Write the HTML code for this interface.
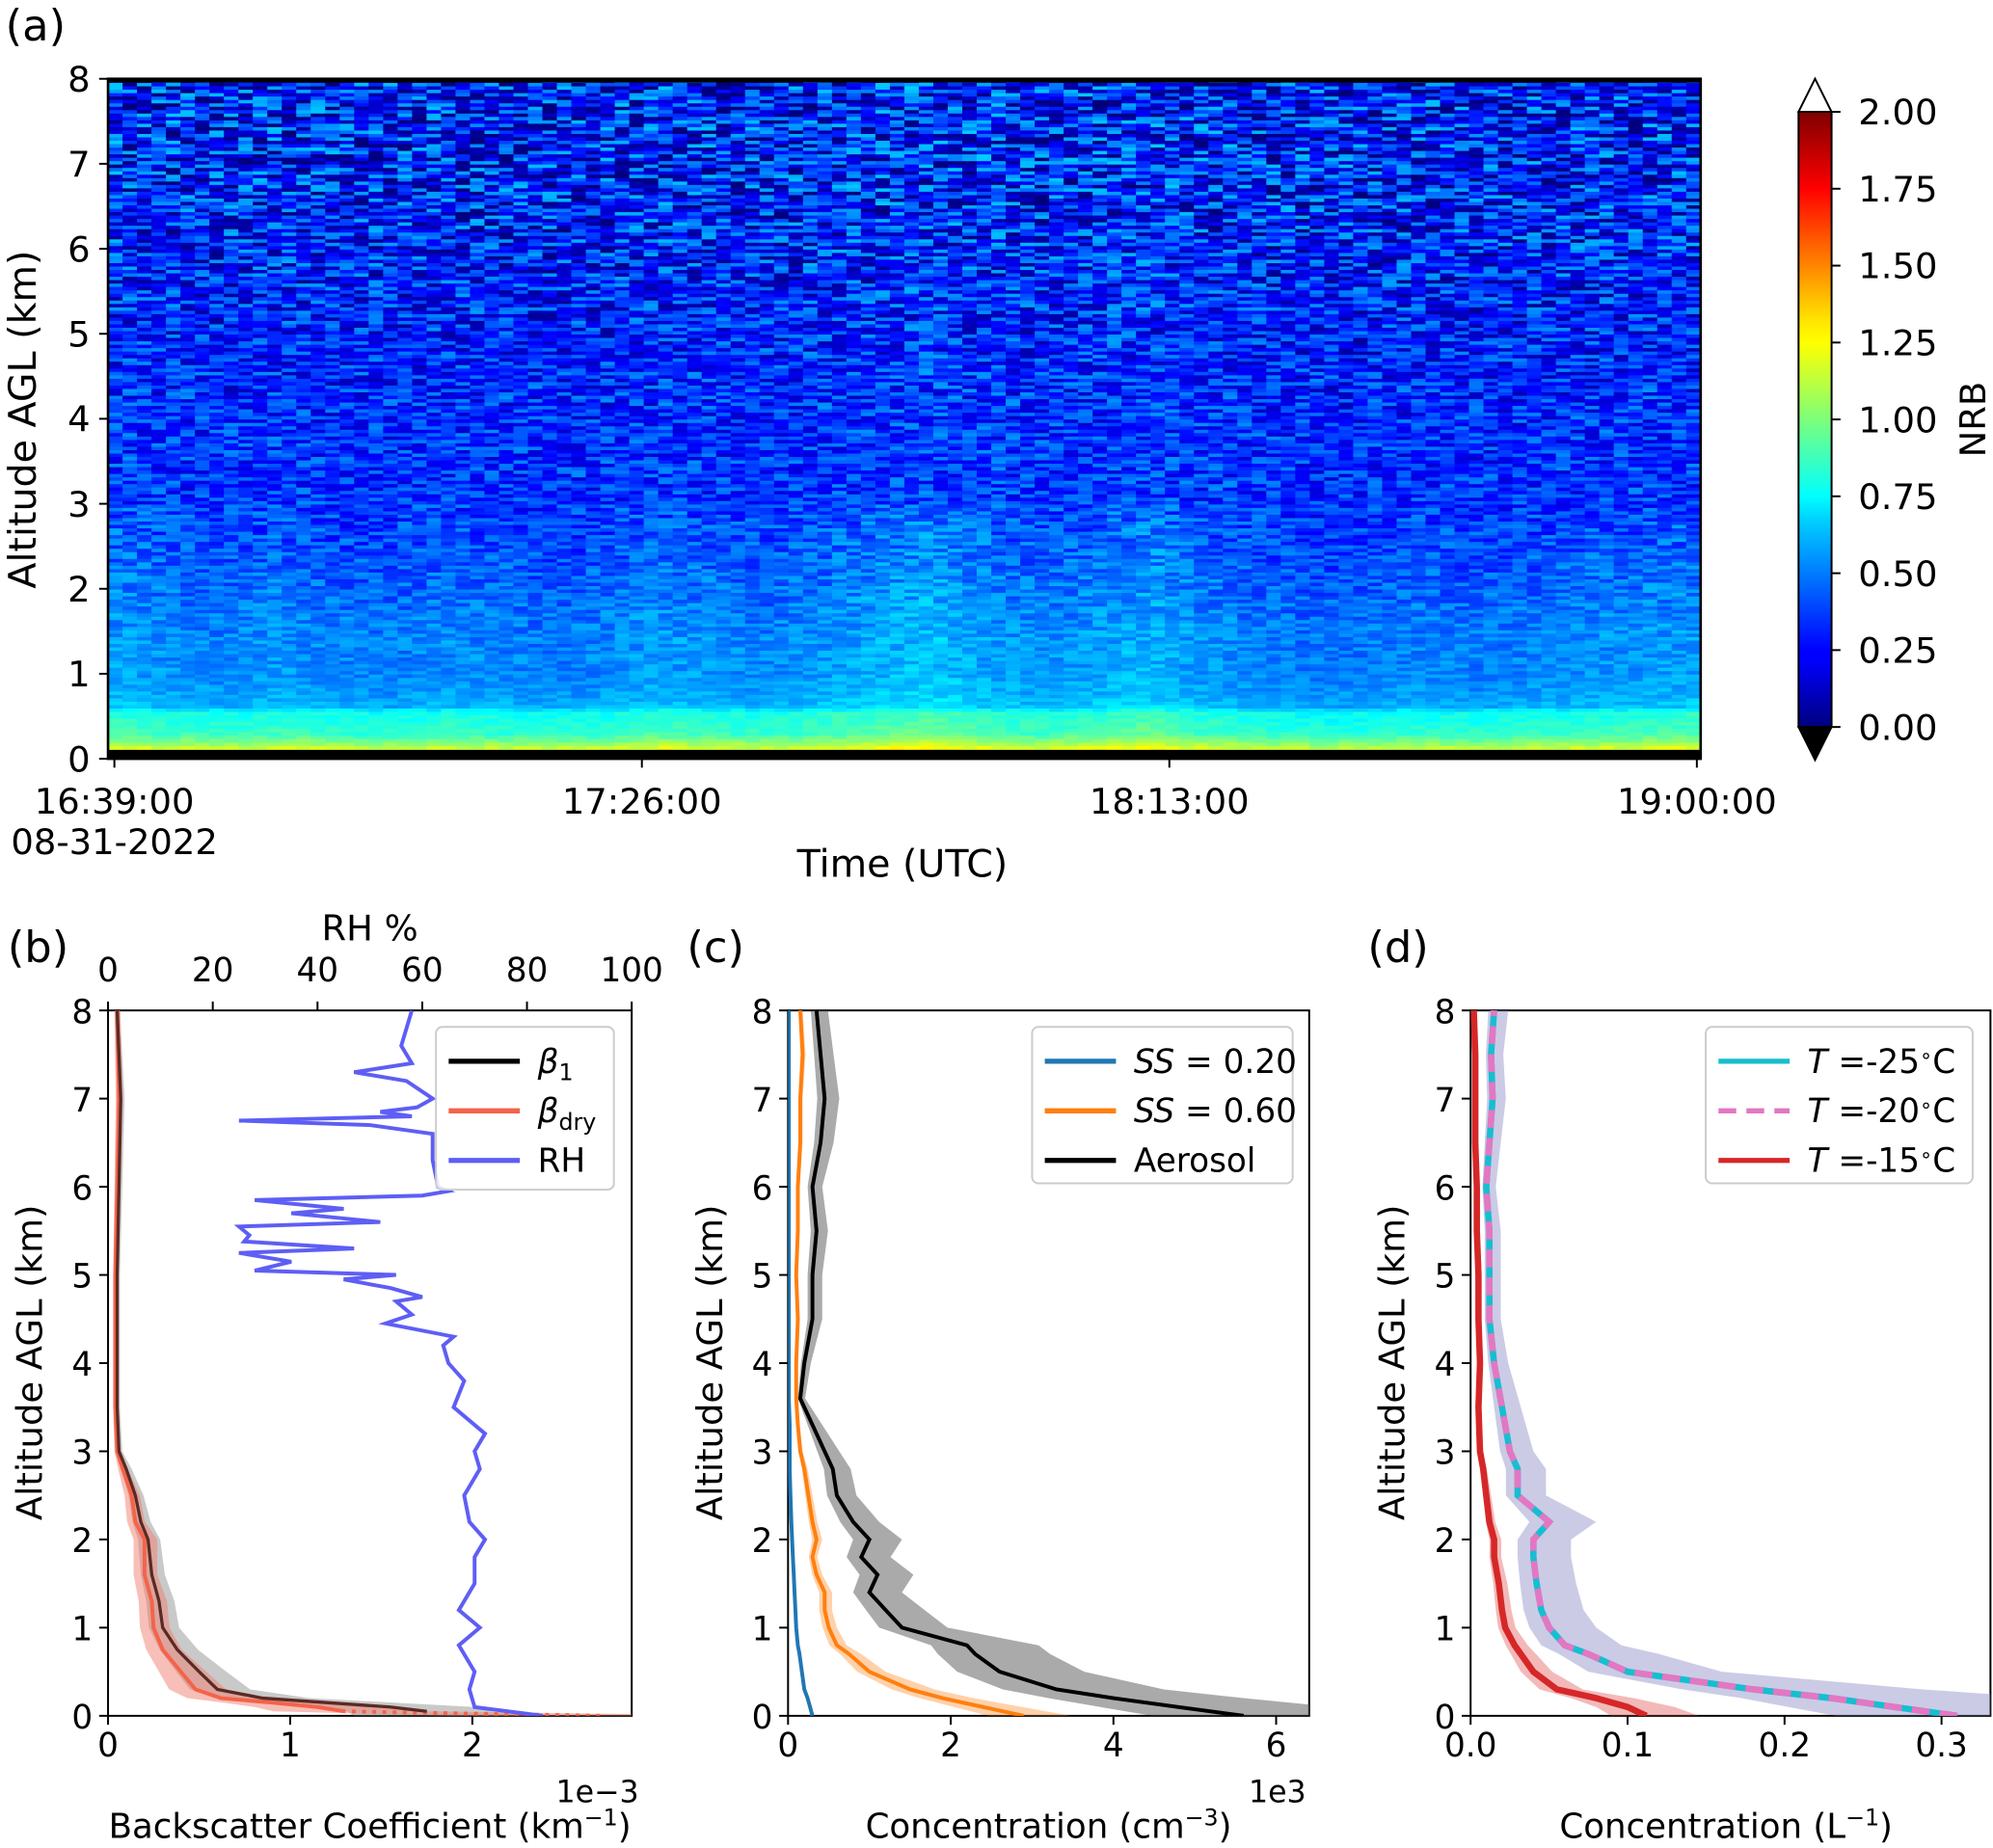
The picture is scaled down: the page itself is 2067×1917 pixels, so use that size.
<!DOCTYPE html>
<html><head><meta charset="utf-8"><style>
html,body{margin:0;padding:0;background:#fff;}
svg{display:block;font-family:"DejaVu Sans","Liberation Sans",sans-serif;}
</style></head><body>
<svg id="fig" width="2067" height="1917" viewBox="0 0 1568 1454" preserveAspectRatio="none" xmlns="http://www.w3.org/2000/svg">
<defs>
<linearGradient id="jet" x1="0" y1="1" x2="0" y2="0">
<stop offset="0" stop-color="#00007f"/><stop offset="0.11" stop-color="#0000ff"/><stop offset="0.125" stop-color="#0000ff"/>
<stop offset="0.34" stop-color="#00d4ff"/><stop offset="0.375" stop-color="#00ffff"/><stop offset="0.5" stop-color="#7dff7a"/>
<stop offset="0.625" stop-color="#ffff00"/><stop offset="0.66" stop-color="#ffe600"/><stop offset="0.875" stop-color="#ff0000"/><stop offset="1" stop-color="#7f0000"/>
</linearGradient>
<clipPath id="clipb"><rect x="85" y="795" width="412" height="555"/></clipPath>
<clipPath id="clipc"><rect x="620" y="795" width="410" height="555"/></clipPath>
<clipPath id="clipd"><rect x="1157" y="795" width="409" height="555"/></clipPath>
</defs>
<g id="heat"></g>
<g id="layer"></g>
</svg>
<script>
// ---------- Panel (a) data ----------
const profAlt = [0,0.1,0.2,0.3,0.45,0.55,0.62,0.8,1.0,1.5,2.0,2.5,3,4,5,6,7,8];
const profNRB = [1.25,1.2,1.0,0.85,0.8,0.78,0.6,0.55,0.52,0.5,0.45,0.4,0.35,0.33,0.3,0.3,0.28,0.28];
const profNoise = [0.06,0.06,0.05,0.05,0.05,0.05,0.06,0.07,0.08,0.1,0.12,0.14,0.17,0.2,0.24,0.3,0.36,0.36];
const timeMod = [0.05,0.02,0.0,0.03,0.0,-0.02,0.02,0.0,-0.02,0.0,0.05,0.02,0.0,0.04,0.08,0.12,0.06,0.02,0.05,0.1,0.03,0.0,-0.03,-0.02,0.0,-0.02,0.0,0.02,0.03,0.05];
// ---------- Panel (b) data ----------
const rhAlt = [0,0.1,0.3,0.5,0.8,1.0,1.2,1.5,1.8,2.0,2.2,2.5,2.8,3.0,3.2,3.5,3.8,4.0,4.2,4.3,4.45,4.55,4.7,4.75,4.85,4.95,5.0,5.05,5.15,5.25,5.3,5.38,5.45,5.55,5.6,5.7,5.75,5.85,5.9,5.95,6.0,6.3,6.6,6.7,6.75,6.8,6.85,6.9,7.0,7.2,7.3,7.4,7.6,8.0];
const rhVal = [83,70,69,70,67,71,67,70,70,72,69,68,71,70,72,66,68,65,64,66,53,58,55,60,54,45,55,28,35,25,47,26,27,25,52,35,45,28,60,65,63,62,62,50,25,58,52,59,62,57,47,58,56,58];
const betaAlt = [0,0.05,0.1,0.15,0.2,0.3,0.5,0.75,1.0,1.3,1.6,2.0,2.2,2.5,2.8,3.0,3.5,4,5,6,7,8];
const beta1 = [1.8,1.75,1.55,1.2,0.85,0.6,0.5,0.38,0.3,0.28,0.24,0.22,0.18,0.15,0.1,0.06,0.05,0.05,0.05,0.06,0.07,0.05];
const betaDry = [2.7,1.3,1.15,0.9,0.62,0.48,0.4,0.3,0.25,0.24,0.2,0.2,0.15,0.13,0.08,0.05,0.04,0.04,0.04,0.05,0.06,0.05];
// ---------- Panel (c) data ----------
const cAlt = [0,0.1,0.2,0.3,0.5,0.7,0.8,1.0,1.2,1.4,1.6,1.8,2.0,2.2,2.5,2.8,3.0,3.3,3.6,4,4.5,5,5.5,6,6.5,7,7.5,8];
const ss20 = [0.3,0.27,0.24,0.2,0.17,0.14,0.12,0.1,0.09,0.08,0.07,0.06,0.05,0.04,0.03,0.02,0.02,0.02,0.01,0.01,0.01,0.01,0.01,0.01,0.01,0.01,0.01,0.01];
const ss60 = [2.9,2.4,1.9,1.5,1.0,0.75,0.6,0.5,0.45,0.45,0.35,0.3,0.35,0.3,0.25,0.2,0.15,0.12,0.1,0.1,0.12,0.1,0.12,0.12,0.15,0.15,0.18,0.15];
const aero = [5.6,4.8,4.0,3.3,2.6,2.3,2.2,1.4,1.2,1.0,1.1,0.9,1.0,0.8,0.6,0.55,0.45,0.3,0.15,0.2,0.3,0.3,0.35,0.3,0.4,0.45,0.4,0.35];
// ---------- Panel (d) data ----------
const dAlt = [0,0.1,0.2,0.3,0.5,0.7,0.8,1.0,1.2,1.5,1.8,2.0,2.2,2.5,2.8,3.0,3.5,4,4.5,5,5.5,6,6.5,7,7.5,8];
const t15 = [0.112,0.1,0.08,0.055,0.04,0.032,0.028,0.022,0.02,0.018,0.015,0.015,0.012,0.01,0.008,0.006,0.005,0.006,0.005,0.005,0.004,0.004,0.003,0.003,0.003,0.002];
const t20 = [0.31,0.27,0.23,0.18,0.1,0.075,0.06,0.05,0.045,0.042,0.04,0.04,0.05,0.03,0.03,0.025,0.02,0.015,0.012,0.012,0.012,0.01,0.012,0.014,0.013,0.015];
const t25 = t20.slice();

const NS="http://www.w3.org/2000/svg";
const L=document.getElementById('layer');
function mk(tag,attrs,parent){const e=document.createElementNS(NS,tag);for(const k in attrs)e.setAttribute(k,attrs[k]);(parent||L).appendChild(e);return e;}
function txt(x,y,s,size,anchor,parent,extra){const e=mk('text',Object.assign({x:x,y:y,'font-size':size,'text-anchor':anchor||'middle',fill:'#000'},extra||{}),parent);e.innerHTML=s;return e;}
function interp(xs,ys,x){if(x<=xs[0])return ys[0];for(let i=1;i<xs.length;i++){if(x<=xs[i]){const t=(x-xs[i-1])/(xs[i]-xs[i-1]);return ys[i-1]+t*(ys[i]-ys[i-1]);}}return ys[ys.length-1];}
function jet(v){v=Math.max(0,Math.min(1,v));const r=Math.max(0,Math.min(1,1.5-Math.abs(4*v-3))),g=Math.max(0,Math.min(1,1.5-Math.abs(4*v-2))),b=Math.max(0,Math.min(1,1.5-Math.abs(4*v-1)));return 'rgb('+(r*255|0)+','+(g*255|0)+','+(b*255|0)+')';}
function hash(i,j){let h=(i*374761393+j*668265263)>>>0;h=((h^(h>>>13))*1274126177)>>>0;return ((h^(h>>>16))>>>0)/4294967295;}

// ---------- Panel (a) ----------
const ax={x0:85,x1:1338,y0:597,y1:62};
const ya=a=>ax.y0-(a/8)*(ax.y0-ax.y1);
const H=document.getElementById('heat');
const nc=110,nr=200;const cw=(ax.x1-ax.x0)/nc,rh=(ax.y0-ax.y1)/nr;
for(let i=0;i<nc;i++){const tm=interp(timeMod.map((_,k)=>k/(timeMod.length-1)),timeMod,i/(nc-1));
 for(let j=0;j<nr;j++){const alt=(j+0.5)/nr*8;
  let v=interp(profAlt,profNRB,alt)+tm*(alt<3?1:0.3)+(hash(i,j)-0.5)*2*interp(profAlt,profNoise,alt);
  mk('rect',{x:(ax.x0+i*cw).toFixed(2),y:(ax.y0-(j+1)*rh).toFixed(2),width:(cw+0.6).toFixed(2),height:(rh+0.6).toFixed(2),fill:jet(v/2)},H);}}
mk('rect',{x:ax.x0,y:ax.y1,width:ax.x1-ax.x0,height:ax.y0-ax.y1,fill:'none',stroke:'#000','stroke-width':2,});
mk('rect',{x:ax.x0,y:590,width:ax.x1-ax.x0,height:7,fill:'#000'});
mk('rect',{x:ax.x0,y:62,width:ax.x1-ax.x0,height:3,fill:'#000'});
for(let k=0;k<=8;k++){const y=ya(k);mk('line',{x1:ax.x0-7,x2:ax.x0,y1:y,y2:y,stroke:'#000','stroke-width':1.5});txt(ax.x0-14,y+10,k,28,'end');}
const tl=['16:39:00','17:26:00','18:13:00','19:00:00'],tx=[90,505,920,1335];
tl.forEach((s,k)=>{mk('line',{x1:tx[k],x2:tx[k],y1:ax.y0,y2:ax.y0+7,stroke:'#000','stroke-width':1.5});txt(tx[k],640,s,28,'middle',null,{});});
txt(90,672,'08-31-2022',28);
txt(710,690,'Time (UTC)',30,'middle',null,{});
txt(0,0,'Altitude AGL (km)',30,'middle',null,{transform:'translate(28,330) rotate(-90)',});
txt(28,32,'(a)',34,'middle');
// colorbar
mk('rect',{x:1415,y:88,width:26,height:484,fill:'url(#jet)',stroke:'#000','stroke-width':1.5,});
mk('polygon',{points:'1415,88 1441,88 1428,62',fill:'#fff',stroke:'#000','stroke-width':1.5});
mk('polygon',{points:'1415,572 1441,572 1428,598',fill:'#000',stroke:'#000','stroke-width':1.5});
for(let k=0;k<=8;k++){const v=k*0.25;const y=572-v/2*484;mk('line',{x1:1441,x2:1448,y1:y,y2:y,stroke:'#000','stroke-width':1.5});txt(1462,y+10,v.toFixed(2),28,'start');}
txt(0,0,'NRB',28,'middle',null,{transform:'translate(1562,330) rotate(-90)'});

// ---------- lower panel helpers ----------
const PY0=1350,PY1=795;
const yb=a=>PY0-(a/8)*(PY0-PY1);
function frame(x0,x1,name){mk('rect',{x:x0,y:PY1,width:x1-x0,height:PY0-PY1,fill:'none',stroke:'#000','stroke-width':1.5,});
 for(let k=0;k<=8;k++){const y=yb(k);mk('line',{x1:x0-7,x2:x0,y1:y,y2:y,stroke:'#000','stroke-width':1.5});txt(x0-12,y+10,k,26,'end');}
 txt(0,0,'Altitude AGL (km)',28,'middle',null,{transform:'translate('+(x0-52)+',1072) rotate(-90)'});}
function xtick(x,s){mk('line',{x1:x,x2:x,y1:PY0,y2:PY0+7,stroke:'#000','stroke-width':1.5});txt(x,PY0+32,s,26);}
function poly(alts,vals,fx,attrs,clip,name){const pts=alts.map((a,i)=>fx(vals[i]).toFixed(1)+','+yb(a).toFixed(1)).join(' ');
 return mk('polyline',Object.assign({points:pts,fill:'none','clip-path':'url(#'+clip+')',},attrs));}
function band(alts,vals,lo,hi,fx,fill,op,clip,name){const a=alts.map((al,i)=>fx(vals[i]*lo).toFixed(1)+','+yb(al).toFixed(1));
 const b=alts.map((al,i)=>fx(vals[i]*hi).toFixed(1)+','+yb(al).toFixed(1)).reverse();
 mk('polygon',{points:a.concat(b).join(' '),fill:fill,'fill-opacity':op,'clip-path':'url(#'+clip+')',});}
function legend(x,y,w,h,items){const g=mk('g',{});
 mk('rect',{x:x,y:y,width:w,height:h,rx:5,fill:'#fff','fill-opacity':0.85,stroke:'#ccc','stroke-width':1.5},g);
 items.forEach((it,k)=>{const yy=y+27+k*39;mk('line',Object.assign({x1:x+10,x2:x+66,y1:yy,y2:yy,'stroke-width':4,stroke:it.c},it.extra||{}),g);
  const t=txt(x+80,yy+9,it.t,26,'start',g);});}

// ---------- Panel (b) ----------
const fxb=v=>85+v*143.3; const fxrh=v=>85+v*4.12;
frame(85,497,'panel-b-frame');
[0,1,2].forEach(v=>xtick(fxb(v),v));
[0,20,40,60,80,100].forEach(v=>{mk('line',{x1:fxrh(v),x2:fxrh(v),y1:PY1,y2:PY1-7,stroke:'#000','stroke-width':1.5});txt(fxrh(v),772,v,26);});
txt(291,740,'RH %',28);txt(30,757,'(b)',34);
txt(470,1418,'1e−3',24);
txt(291,1446,'Backscatter Coefficient (km<tspan dy="-10" font-size="18">−1</tspan><tspan dy="10">)</tspan>',27);
band(betaAlt,beta1,0.75,1.3,fxb,'#888',0.45,'clipb','beta1-band');
band(betaAlt,betaDry,0.7,1.35,fxb,'#f08070',0.5,'clipb','betadry-band');
poly(betaAlt.slice(1),betaDry.slice(1),fxb,{stroke:'#f4634a','stroke-width':3},'clipb','betadry-line');
poly(betaAlt.slice(0,2),betaDry.slice(0,2),fxb,{stroke:'#f4634a','stroke-width':3,'stroke-dasharray':'3,5'},'clipb','betadry-extrapolation');
poly(betaAlt.slice(1),beta1.slice(1),fxb,{stroke:'#5a2a24','stroke-width':2.5},'clipb','beta1-line');
poly(rhAlt,rhVal,fxrh,{stroke:'#5e5ef5','stroke-width':3},'clipb','rh-line');
legend(343,808,140,128,[{c:'#000',t:'<tspan font-style="italic">β</tspan><tspan font-size="18" dy="6">1</tspan>'},{c:'#f4634a',t:'<tspan font-style="italic">β</tspan><tspan font-size="18" dy="6">dry</tspan>'},{c:'#5e5ef5',t:'RH'}]);

// ---------- Panel (c) ----------
const fxc=v=>620+v*64;
frame(620,1030,'panel-c-frame');
[0,2,4,6].forEach(v=>xtick(fxc(v),v));
txt(1005,1418,'1e3',24);txt(563,757,'(c)',34);
txt(825,1446,'Concentration (cm<tspan dy="-10" font-size="18">−3</tspan><tspan dy="10">)</tspan>',27);
band(cAlt,aero,0.8,1.4,fxc,'#555',0.5,'clipc','aerosol-band');
band(cAlt,ss60,0.85,1.2,fxc,'#ff8c2a',0.4,'clipc','ss60-band');
poly(cAlt,ss20,fxc,{stroke:'#1f77b4','stroke-width':3},'clipc','ss020-line');
poly(cAlt,ss60,fxc,{stroke:'#ff7f0e','stroke-width':3},'clipc','ss060-line');
poly(cAlt,aero,fxc,{stroke:'#000','stroke-width':3},'clipc','aerosol-line');
legend(812,808,205,123,[{c:'#1f77b4',t:'<tspan font-style="italic">SS</tspan> = 0.20'},{c:'#ff7f0e',t:'<tspan font-style="italic">SS</tspan> = 0.60'},{c:'#000',t:'Aerosol'}]);

// ---------- Panel (d) ----------
const fxd=v=>1157+v*1235;
frame(1157,1566,'panel-d-frame');
[0,0.1,0.2,0.3].forEach(v=>xtick(fxd(v),v.toFixed(1)));
txt(1100,757,'(d)',34);
txt(1358,1446,'Concentration (L<tspan dy="-10" font-size="18">−1</tspan><tspan dy="10">)</tspan>',27);
band(dAlt,t20,0.75,1.6,fxd,'#8c8cc8',0.45,'clipd','t20-band');
band(dAlt,t15,0.8,1.3,fxd,'#e05050',0.4,'clipd','t15-band');
poly(dAlt,t25,fxd,{stroke:'#17becf','stroke-width':5},'clipd','t25-line');
poly(dAlt,t20,fxd,{stroke:'#e377c2','stroke-width':5,'stroke-dasharray':'14,8'},'clipd','t20-line');
poly(dAlt,t15,fxd,{stroke:'#d62728','stroke-width':5},'clipd','t15-line');
legend(1342,808,210,123,[{c:'#17becf',t:'<tspan font-style="italic">T</tspan> =-25<tspan dy="-8" font-size="16">∘</tspan><tspan dy="8">C</tspan>'},{c:'#e377c2',t:'<tspan font-style="italic">T</tspan> =-20<tspan dy="-8" font-size="16">∘</tspan><tspan dy="8">C</tspan>',extra:{'stroke-dasharray':'14,8'}},{c:'#d62728',t:'<tspan font-style="italic">T</tspan> =-15<tspan dy="-8" font-size="16">∘</tspan><tspan dy="8">C</tspan>'}]);
</script>
</body></html>
